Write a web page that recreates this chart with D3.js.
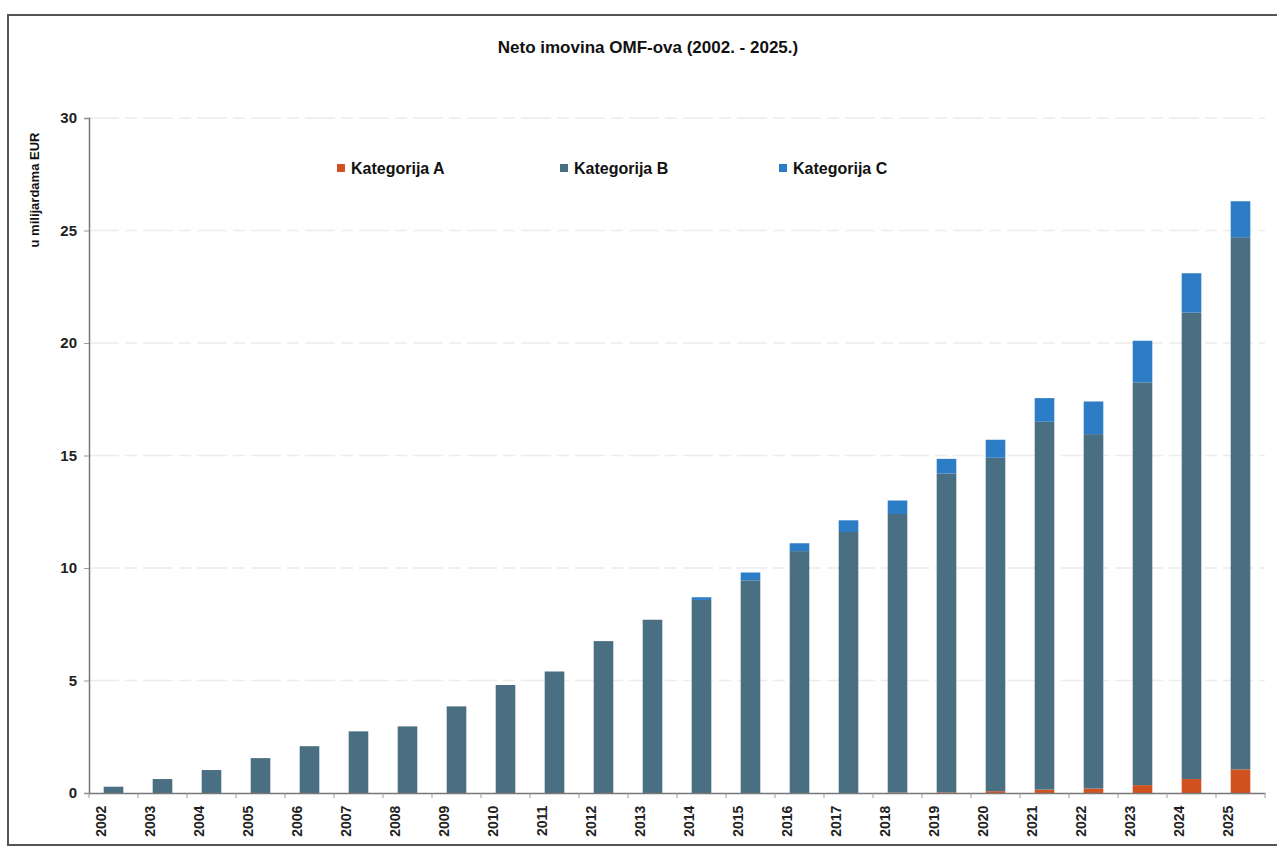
<!DOCTYPE html>
<html><head><meta charset="utf-8">
<script src="https://cdn.jsdelivr.net/npm/d3@7"></script>
<style>body{margin:0;background:#fff;}svg{display:block;}</style>
</head><body>
<svg id="c" width="1277" height="850"></svg>
<script>
const years = ["2002","2003","2004","2005","2006","2007","2008","2009","2010","2011","2012","2013","2014","2015","2016","2017","2018","2019","2020","2021","2022","2023","2024","2025"];
const katA = [0,0,0,0,0,0,0,0,0,0,0,0,0,0,0,0,0.02,0.03,0.08,0.15,0.2,0.35,0.62,1.05];
const katB = [0.28,0.62,1.02,1.55,2.08,2.74,2.96,3.85,4.8,5.4,6.75,7.7,8.58,9.45,10.75,11.6,12.38,14.17,14.82,16.35,15.75,17.9,20.73,23.65];
const katC = [0,0,0,0,0,0,0,0,0,0,0,0,0.12,0.35,0.35,0.52,0.6,0.65,0.8,1.05,1.45,1.85,1.75,1.6];
const seriesNames = ["Kategorija A","Kategorija B","Kategorija C"];
const colors = ["#d2521f","#4a6f83","#2c7cc6"];
const yTicks = [0,5,10,15,20,25,30];
const title = "Neto imovina OMF-ova (2002. - 2025.)";
const yLabel = "u milijardama EUR";

const svg = d3.select("#c");
const font = "'Liberation Sans', Arial, sans-serif";
// frame
svg.append("rect").attr("x",8).attr("y",15).attr("width",1280).attr("height",830)
  .attr("fill","none").attr("stroke","#555").attr("stroke-width",2);

const m = {l:89, r:1265, t:118, b:793};
const x = d3.scaleBand().domain(years).range([m.l,m.r]).paddingInner(0.6).paddingOuter(0.3);
const y = d3.scaleLinear().domain([0,30]).range([m.b,m.t]);

// gridlines
svg.append("g").selectAll("line").data(yTicks.filter(d=>d>0)).join("line")
  .attr("x1",m.l).attr("x2",m.r).attr("y1",d=>y(d)).attr("y2",d=>y(d))
  .attr("stroke","#ececec").attr("stroke-width",1.5).attr("stroke-dasharray","30,6,12,6");

const rows = years.map((yr,i)=>({year:yr,A:katA[i],B:katB[i],C:katC[i]}));
const stack = d3.stack().keys(["A","B","C"])(rows);
svg.append("g").selectAll("g").data(stack).join("g").attr("fill",(d,i)=>colors[i])
  .selectAll("rect").data(d=>d).join("rect")
  .attr("x",d=>x(d.data.year)).attr("width",x.bandwidth())
  .attr("y",d=>y(d[1])).attr("height",d=>Math.max(0,y(d[0])-y(d[1])));

// y axis
const ya = svg.append("g").attr("transform",`translate(${m.l},0)`)
  .call(d3.axisLeft(y).tickValues(yTicks).tickSize(5).tickPadding(7));
ya.select(".domain").attr("stroke","#777").attr("stroke-width",1.5);
ya.selectAll(".tick line").attr("stroke","#999");
ya.selectAll("text").attr("font-family",font).attr("font-weight","bold").attr("font-size",15).attr("fill","#222");

// x axis
const xa = svg.append("g").attr("transform",`translate(0,${m.b})`)
  .call(d3.axisBottom(x).tickSize(0).tickPadding(10));
xa.select(".domain").attr("stroke","#777").attr("stroke-width",1.5);
xa.selectAll("text").attr("font-family",font).attr("font-weight","bold").attr("font-size",14).attr("fill","#222")
  .attr("transform","rotate(-90)").attr("text-anchor","end").attr("dx","-0.9em").attr("dy","-0.55em")
  .attr("x",0).attr("y",0);
const step = x.step();
svg.append("g").selectAll("line").data(d3.range(years.length+1)).join("line")
  .attr("x1",i=>m.l+i*step).attr("x2",i=>m.l+i*step).attr("y1",m.b).attr("y2",m.b+5)
  .attr("stroke","#999");

// title
svg.append("text").attr("x",648).attr("y",53).attr("text-anchor","middle")
  .attr("font-family",font).attr("font-weight","bold").attr("font-size",17).attr("fill","#111").text(title);
// y label
svg.append("text").attr("transform","translate(39,190) rotate(-90)").attr("text-anchor","middle")
  .attr("font-family",font).attr("font-weight","bold").attr("font-size",13).attr("fill","#111").text(yLabel);

// legend
const legX = [337,560,779];
const lg = svg.append("g").selectAll("g").data(seriesNames).join("g")
  .attr("transform",(d,i)=>`translate(${legX[i]},168)`);
lg.append("rect").attr("x",0).attr("y",-4).attr("width",8).attr("height",8).attr("fill",(d,i)=>colors[i]);
lg.append("text").attr("x",14).attr("y",6).attr("font-family",font).attr("font-weight","bold")
  .attr("font-size",16).attr("fill","#111").text(d=>d);
</script>
</body></html>
